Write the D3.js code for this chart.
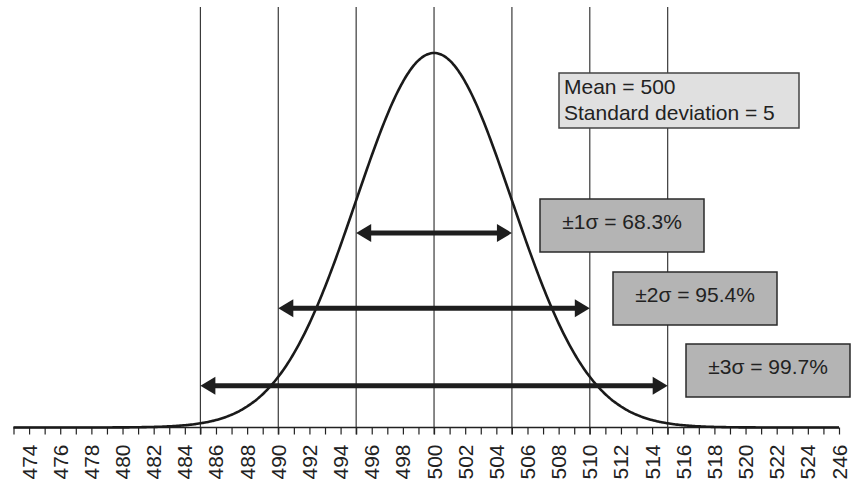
<!DOCTYPE html>
<html>
<head>
<meta charset="utf-8">
<script src="https://cdn.jsdelivr.net/npm/d3@7"></script>
<style>
  html, body { margin: 0; padding: 0; background: #fff; }
  svg { display: block; font-family: "Liberation Sans", Arial, Helvetica, sans-serif; }
</style>
</head>
<body>
<svg id="chart" width="851" height="481"></svg>
<script>
// ---- data ----
const mean = 500;
const sd = 5;
const tickValues = [474,476,478,480,482,484,486,488,490,492,494,496,498,500,502,504,506,508,510,512,514,516,518,520,522,524,526];
const tickLabels = ["474","476","478","480","482","484","486","488","490","492","494","496","498","500","502","504","506","508","510","512","514","516","518","520","522","524","246"];
const minorTicks = d3.range(473, 527);
const sigmaLines = [485, 490, 495, 500, 505, 510, 515];
const sigmaLevels = [1, 2, 3];
const sigmaPct = ["68.3%", "95.4%", "99.7%"];
const infoLines = ["Mean = 500", "Standard deviation = 5"];

// ---- layout ----
const axisY = 427.5;
const svg = d3.select("#chart");

const x = d3.scaleLinear().domain([473, 526]).range([13.5, 839]);
const pdf = v => Math.exp(-0.5 * ((v - mean) / sd) ** 2) / (sd * Math.sqrt(2 * Math.PI));
const peak = pdf(mean);
const y = d3.scaleLinear().domain([0, peak]).range([axisY, 53]);

// vertical sigma lines
svg.append("g").selectAll("line").data(sigmaLines).join("line")
  .attr("x1", d => x(d)).attr("x2", d => x(d))
  .attr("y1", 7).attr("y2", axisY + 7)
  .attr("stroke", "#3a3a3a").attr("stroke-width", 1.2);

// axis
const axis = d3.axisBottom(x).tickValues(minorTicks).tickSize(7).tickFormat("");
const gAxis = svg.append("g").attr("transform", `translate(0,${axisY})`).call(axis);
gAxis.select(".domain").attr("stroke", "#222").attr("stroke-width", 1.5).attr("d", `M${x(473)},0H${x(526)}`);
gAxis.selectAll(".tick line").attr("stroke", "#222").attr("stroke-width", 1.2);

// tick labels (rotated)
svg.append("g").selectAll("text").data(tickValues).join("text")
  .attr("transform", (d) => `translate(${x(d) + 7.5},${axisY + 17}) rotate(-90)`)
  .attr("text-anchor", "end")
  .attr("font-size", 21)
  .attr("fill", "#222")
  .text((d, i) => tickLabels[i]);

// normal curve
const pts = d3.range(473, 526.001, 0.1).map(v => [v, pdf(v)]);
svg.append("path")
  .datum(pts)
  .attr("fill", "none")
  .attr("stroke", "#1a1a1a")
  .attr("stroke-width", 2.6)
  .attr("d", d3.line().x(d => x(d[0])).y(d => y(d[1])).curve(d3.curveMonotoneX));

// arrows
const arrowY = [233, 308.3, 385.7];
const headL = 15, headW = 9;
const gArr = svg.append("g").attr("fill", "#1e1e1e").attr("stroke", "#1e1e1e");
sigmaLevels.forEach((k, i) => {
  const x0 = x(mean - k * sd), x1 = x(mean + k * sd), yy = arrowY[i];
  gArr.append("line").attr("x1", x0 + headL - 1).attr("x2", x1 - headL + 1)
    .attr("y1", yy).attr("y2", yy).attr("stroke-width", 5);
  gArr.append("path").attr("stroke", "none")
    .attr("d", `M${x0},${yy}L${x0 + headL},${yy - headW}L${x0 + headL},${yy + headW}Z`);
  gArr.append("path").attr("stroke", "none")
    .attr("d", `M${x1},${yy}L${x1 - headL},${yy - headW}L${x1 - headL},${yy + headW}Z`);
});

// sigma boxes
const boxX = [540, 613, 686], boxYTop = [199, 272, 344];
const boxW = 164, boxH = 53;
sigmaLevels.forEach((k, i) => {
  const g = svg.append("g");
  g.append("rect").attr("x", boxX[i]).attr("y", boxYTop[i]).attr("width", boxW).attr("height", boxH)
    .attr("fill", "#b4b4b4").attr("stroke", "#2a2a2a").attr("stroke-width", 1.5);
  g.append("text").attr("x", boxX[i] + boxW / 2).attr("y", boxYTop[i] + 30)
    .attr("text-anchor", "middle").attr("font-size", 21).attr("fill", "#222")
    .text(`\u00B1${k}\u03C3 = ${sigmaPct[i]}`);
});

// info box
const ib = svg.append("g");
ib.append("rect").attr("x", 559).attr("y", 73).attr("width", 240).attr("height", 55)
  .attr("fill", "#e0e0e0").attr("stroke", "#444").attr("stroke-width", 1.5);
ib.selectAll("text").data(infoLines).join("text")
  .attr("x", 564).attr("y", (d, i) => 93.5 + i * 26)
  .attr("font-size", 21).attr("fill", "#222")
  .text(d => d);
</script>
</body>
</html>
